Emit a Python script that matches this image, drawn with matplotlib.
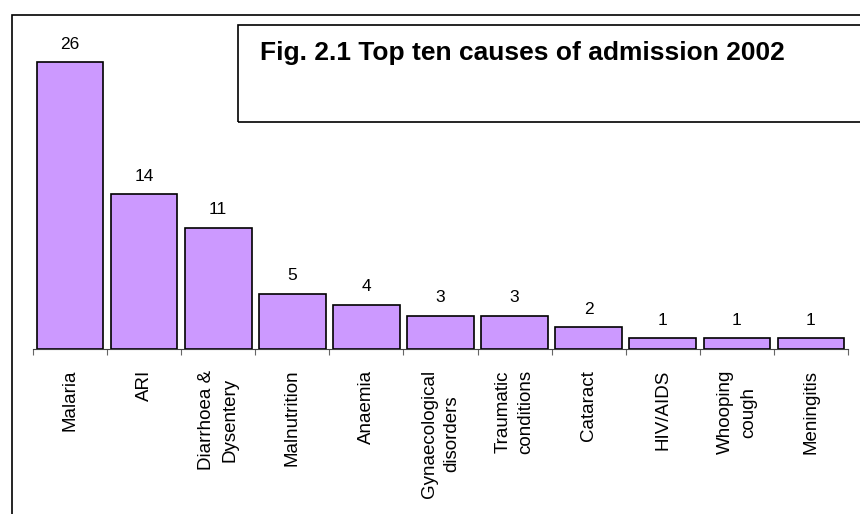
"""Bar chart: top ten causes of admission, 2002."""
import matplotlib
matplotlib.use("Agg")
import matplotlib.pyplot as plt
from matplotlib.patches import Rectangle

plt.rcParams["font.family"] = ["Liberation Sans", "DejaVu Sans"]

causes = ["Malaria", "ARI", "Diarrhoea &\nDysentery", "Malnutrition", "Anaemia",
          "Gynaecological\ndisorders", "Traumatic\nconditions", "Cataract",
          "HIV/AIDS", "Whooping\ncough", "Meningitis"]
percent = [26, 14, 11, 5, 4, 3, 3, 2, 1, 1, 1]

W, H = 860, 514
fig = plt.figure(figsize=(W / 100, H / 100), dpi=100)
fig.patch.set_facecolor("white")

# plot area: baseline at y=349 px, categories from x=33 to x=848 px
ax = fig.add_axes([33 / W, 1 - 349 / H, (848 - 33) / W, (349 - 15) / H])
xs = list(range(len(causes)))
ax.bar(xs, percent, width=0.9, color="#CC99FF", edgecolor="black", linewidth=1.2)
for x, v in zip(xs, percent):
    ax.annotate(str(v), (x, v), xytext=(0, 7.5), textcoords="offset points",
                ha="center", va="bottom", fontsize=12.5)

ax.set_xlim(-0.5, len(causes) - 0.5)
ax.set_ylim(0, 30.25)
for side in ["top", "right", "left"]:
    ax.spines[side].set_visible(False)
ax.spines["bottom"].set_color("#444444")
ax.spines["bottom"].set_linewidth(0.8)
ax.set_yticks([])

# ticks sit between categories, labels at category centres
ax.set_xticks([i - 0.5 for i in range(len(causes) + 1)])
ax.set_xticklabels([])
ax.tick_params(axis="x", which="major", direction="out", length=4,
               color="#666666", width=0.8)
ax.set_xticks(xs, minor=True)
ax.set_xticklabels(causes, minor=True, rotation=90, ha="center", va="top",
                   multialignment="center", fontsize=13.5, linespacing=1.45)
ax.tick_params(axis="x", which="minor", length=0, pad=15)

# outer frame and title box, both running off the right edge
fig.add_artist(Rectangle((12 / W, -0.1), 1.2, 1 - 15 / H + 0.1,
                         transform=fig.transFigure, fill=False,
                         edgecolor="black", linewidth=1.2, clip_on=False))
fig.add_artist(Rectangle((238 / W, 1 - 122 / H), 1.0, (122 - 25) / H,
                         transform=fig.transFigure, fill=False,
                         edgecolor="black", linewidth=1.2, clip_on=False))
fig.text(260 / W, 1 - 53 / H, "Fig. 2.1 Top ten causes of admission 2002",
         ha="left", va="center", fontsize=19, fontweight="bold")

fig.savefig("out.png", dpi=100)
